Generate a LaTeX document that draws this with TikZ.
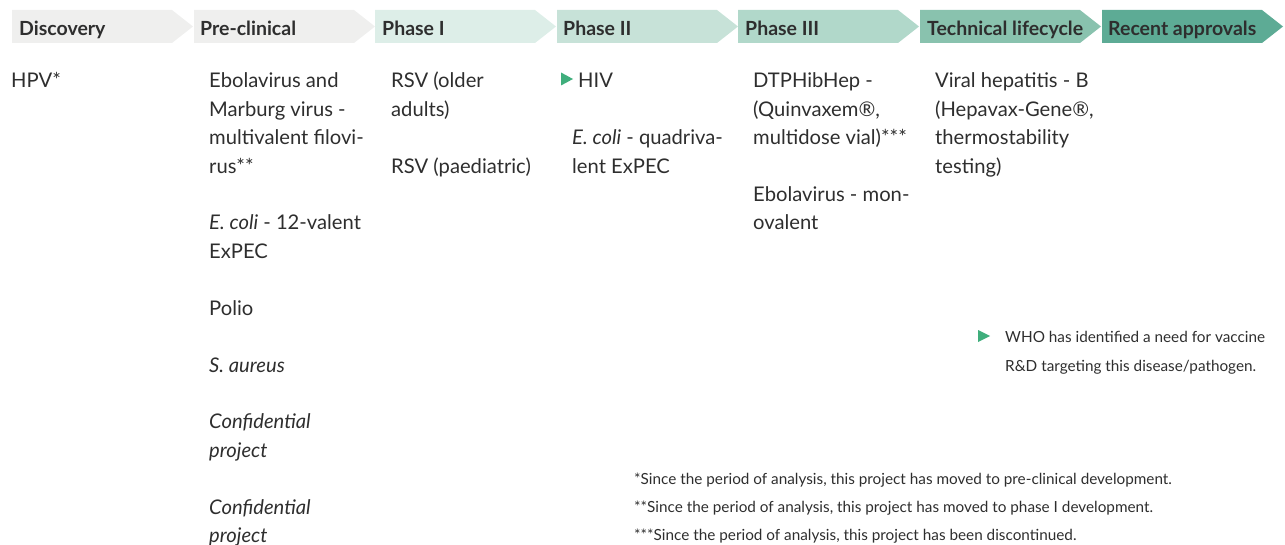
\documentclass[tikz,border=0pt]{standalone}
\usepackage{fontspec}
\setmainfont{Lato}
\definecolor{cDisc}{HTML}{EFEFEE}
\definecolor{cPre}{HTML}{EFEFEE}
\definecolor{cPone}{HTML}{DDEEE8}
\definecolor{cPtwo}{HTML}{C7E2D8}
\definecolor{cPthree}{HTML}{B1D8CA}
\definecolor{cTech}{HTML}{89C2AE}
\definecolor{cRec}{HTML}{5DAB95}
\definecolor{txt}{HTML}{2E2E2E}
\definecolor{whomark}{HTML}{3FAE7C}
\tikzset{
  hdr/.style={anchor=base west, inner sep=0pt, text=txt, font=\fontsize{19.5}{21}\selectfont\bfseries},
  item/.style={anchor=base west, inner sep=0pt, text=txt, align=left, font=\fontsize{20.2}{28.4}\selectfont},
  note/.style={anchor=base west, inner sep=0pt, text=txt, align=left, font=\fontsize{15.3}{29}\selectfont},
}
\begin{document}
\begin{tikzpicture}[x=1pt,y=-1pt]
\useasboundingbox (0,0) rectangle (1285,545);
% chevrons
\foreach \x/\c in {12/cDisc,194/cPre,375/cPone,557/cPtwo,738/cPthree,920/cTech,1102/cRec}
  \fill[\c] (\x,10) -- ++(160,0) -- ++(21,16.5) -- ++(-21,16.5) -- ++(-160,0) -- cycle;
% headers
\node[hdr] (hdisc) at (19,35.5) {Discovery};
\node[hdr] (hpre) at (200,35.5) {Pre-clinical};
\node[hdr] (hpone) at (382,35.5) {Phase I};
\node[hdr] (hptwo) at (563,35.5) {Phase II};
\node[hdr] (hpthree) at (745,35.5) {Phase III};
\node[hdr] (htech) at (927,35.5) {Technical lifecycle};
\node[hdr] (hrec) at (1108,35.5) {Recent approvals};
% Discovery (anchor = baseline of last line)
\node[item] (hpv) at (11,88) {HPV*};
% Pre-clinical
\node[item] (ebm) at (209,173.2) {Ebolavirus and\\Marburg virus -\\multivalent filovi-\\rus**};
\node[item] (ecoli12) at (209,258.4) {\textit{E. coli} - 12-valent\\ExPEC};
\node[item] (polio) at (209,315.2) {Polio};
\node[item] (saur) at (209,372) {\textit{S. aureus}};
\node[item] (conf1) at (209,457.2) {\textit{Confidential}\\\textit{project}};
\node[item] (conf2) at (209,542.4) {\textit{Confidential}\\\textit{project}};
% Phase I
\node[item] (rsvold) at (391,116.4) {RSV (older\\adults)};
\node[item] (rsvped) at (391,173.2) {RSV (paediatric)};
% Phase II
\fill[whomark] (561,72.5) -- (573,79) -- (561,85.5) -- cycle;
\node[item] (hiv) at (578,88) {HIV};
\node[item] (ecoli4) at (572,173.2) {\textit{E. coli} - quadriva-\\lent ExPEC};
% Phase III
\node[item] (dtp) at (753,144.8) {DTPHibHep -\\(Quinvaxem®,\\multidose vial)***};
\node[item] (ebmono) at (753,230) {Ebolavirus - mon-\\ovalent};
% Technical lifecycle
\node[item] (hepb) at (935,173.2) {Viral hepatitis - B\\(Hepavax-Gene®,\\thermostability\\testing)};
% legend
\fill[whomark] (978,330) -- (990,336) -- (978,342) -- cycle;
\node[note] (legend) at (1005,371) {WHO has identified a need for vaccine\\R\&D targeting this disease/pathogen.};
% footnotes
\node[note] (fn1) at (634,484) {*Since the period of analysis, this project has moved to pre-clinical development.};
\node[note] (fn2) at (634,512) {**Since the period of analysis, this project has moved to phase I development.};
\node[note] (fn3) at (634,540) {***Since the period of analysis, this project has been discontinued.};
\end{tikzpicture}
\end{document}
